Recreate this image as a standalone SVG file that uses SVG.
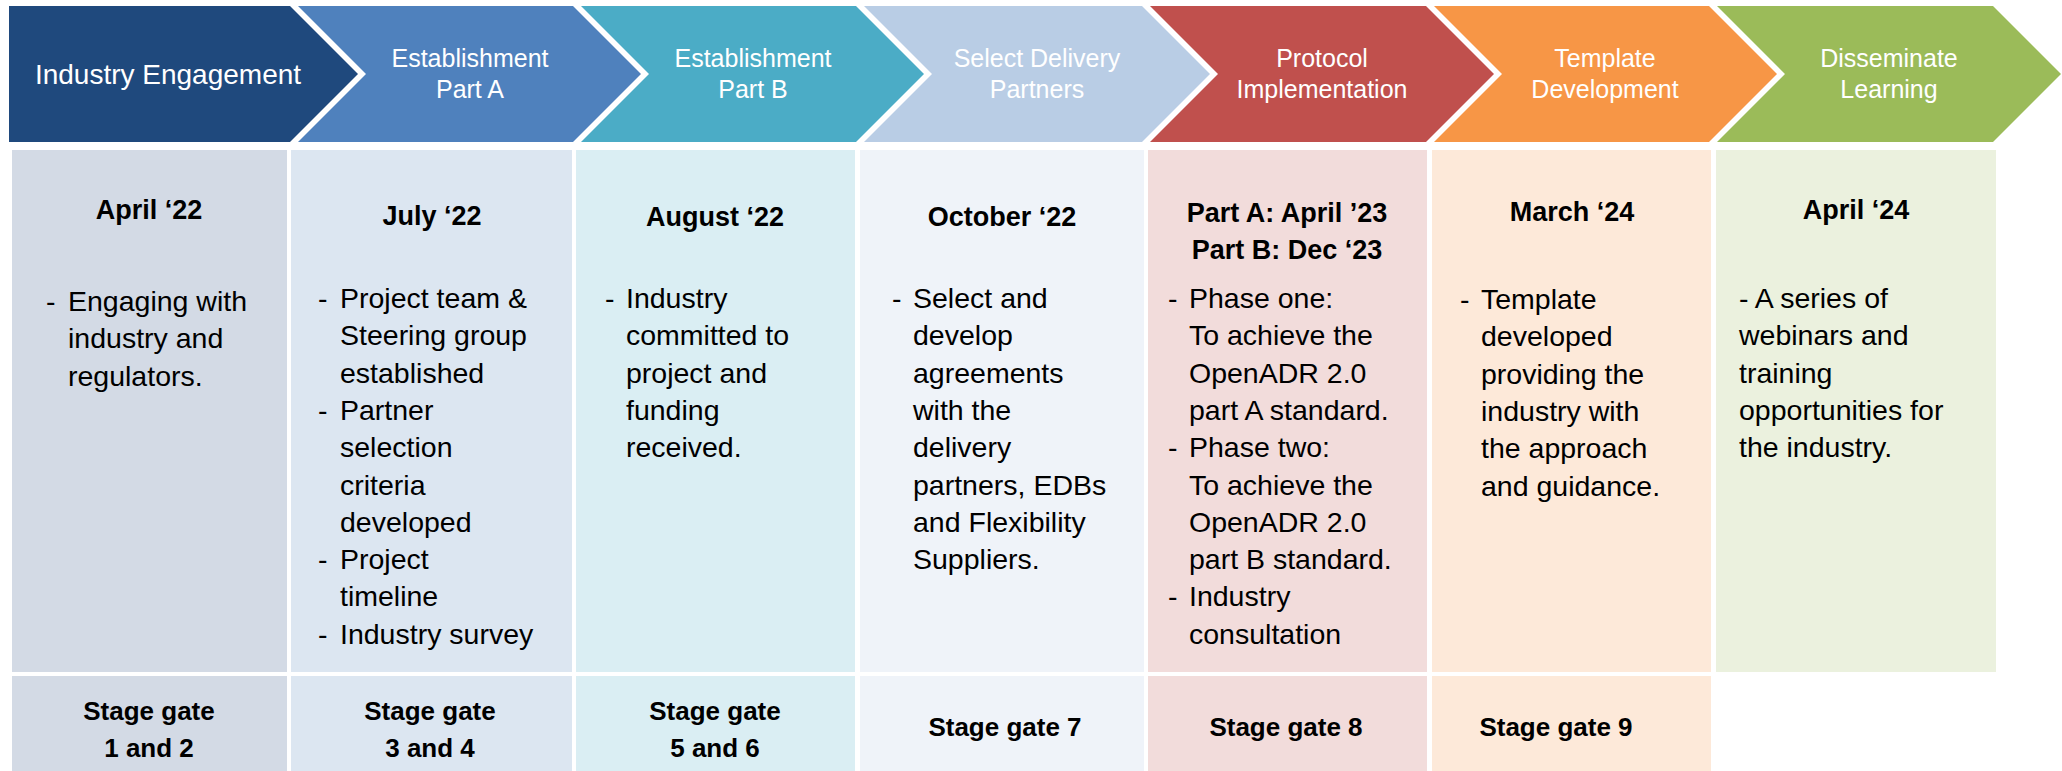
<svg xmlns="http://www.w3.org/2000/svg" width="2062" height="771" viewBox="0 0 2062 771">
<style>
text{font-family:"Liberation Sans",Arial,sans-serif;}
.hd{fill:#FFFFFF;font-size:25px;text-anchor:middle;}
.hd1{fill:#FFFFFF;font-size:28px;text-anchor:middle;}
.dt{fill:#000000;font-size:27px;font-weight:bold;text-anchor:middle;}
.bd{fill:#000000;font-size:28.5px;}
.sg{fill:#000000;font-size:26px;font-weight:bold;text-anchor:middle;}
</style>
<rect x="0" y="0" width="2062" height="771" fill="#FFFFFF"/>

<g id="chevrons">
<g id="chev1"><polygon points="9,6 290,6 358,74 290,142 9,142" fill="#1F497D"/>
<text class="hd1" x="168" y="84">Industry Engagement</text></g>
<g id="chev2"><polygon points="298,6 573,6 641,74 573,142 298,142 366,74" fill="#4F81BD"/>
<text class="hd" x="470" y="67">Establishment</text><text class="hd" x="470" y="98">Part A</text></g>
<g id="chev3"><polygon points="581,6 856,6 924,74 856,142 581,142 649,74" fill="#4BACC6"/>
<text class="hd" x="753" y="67">Establishment</text><text class="hd" x="753" y="98">Part B</text></g>
<g id="chev4"><polygon points="864,6 1142,6 1210,74 1142,142 864,142 932,74" fill="#B9CDE5"/>
<text class="hd" x="1037" y="67">Select Delivery</text><text class="hd" x="1037" y="98">Partners</text></g>
<g id="chev5"><polygon points="1150,6 1426,6 1494,74 1426,142 1150,142 1218,74" fill="#C0504D"/>
<text class="hd" x="1322" y="67">Protocol</text><text class="hd" x="1322" y="98">Implementation</text></g>
<g id="chev6"><polygon points="1434,6 1709,6 1777,74 1709,142 1434,142 1502,74" fill="#F79646"/>
<text class="hd" x="1605" y="67">Template</text><text class="hd" x="1605" y="98">Development</text></g>
<g id="chev7"><polygon points="1717,6 1993,6 2061,74 1993,142 1717,142 1785,74" fill="#9BBB59"/>
<text class="hd" x="1889" y="67">Disseminate</text><text class="hd" x="1889" y="98">Learning</text></g>
</g>

<g id="col1">
<rect x="12" y="150" width="275" height="522" fill="#D3DAE5"/>
<text class="dt" x="149" y="219">April ‘22</text>
<text class="bd" x="46" y="311">-</text>
<text class="bd"><tspan x="68" y="311">Engaging with</tspan><tspan x="68" y="348.3">industry and</tspan><tspan x="68" y="385.6">regulators.</tspan></text>
</g>
<g id="col2">
<rect x="291" y="150" width="281" height="522" fill="#DCE6F1"/>
<text class="dt" x="432" y="225">July ‘22</text>
<text class="bd"><tspan x="318" y="308">-</tspan><tspan x="318" y="419.9">-</tspan><tspan x="318" y="569.1">-</tspan><tspan x="318" y="643.7">-</tspan></text>
<text class="bd"><tspan x="340" y="308">Project team &amp;</tspan><tspan x="340" y="345.3">Steering group</tspan><tspan x="340" y="382.6">established</tspan><tspan x="340" y="419.9">Partner</tspan><tspan x="340" y="457.2">selection</tspan><tspan x="340" y="494.5">criteria</tspan><tspan x="340" y="531.8">developed</tspan><tspan x="340" y="569.1">Project</tspan><tspan x="340" y="606.4">timeline</tspan><tspan x="340" y="643.7">Industry survey</tspan></text>
</g>
<g id="col3">
<rect x="576" y="150" width="279" height="522" fill="#DAEEF3"/>
<text class="dt" x="715" y="226">August ‘22</text>
<text class="bd" x="605" y="308">-</text>
<text class="bd"><tspan x="626" y="308">Industry</tspan><tspan x="626" y="345.3">committed to</tspan><tspan x="626" y="382.6">project and</tspan><tspan x="626" y="419.9">funding</tspan><tspan x="626" y="457.2">received.</tspan></text>
</g>
<g id="col4">
<rect x="860" y="150" width="284" height="522" fill="#EFF3F9"/>
<text class="dt" x="1002" y="226">October ‘22</text>
<text class="bd" x="892" y="308">-</text>
<text class="bd"><tspan x="913" y="308">Select and</tspan><tspan x="913" y="345.3">develop</tspan><tspan x="913" y="382.6">agreements</tspan><tspan x="913" y="419.9">with the</tspan><tspan x="913" y="457.2">delivery</tspan><tspan x="913" y="494.5">partners, EDBs</tspan><tspan x="913" y="531.8">and Flexibility</tspan><tspan x="913" y="569.1">Suppliers.</tspan></text>
</g>
<g id="col5">
<rect x="1148" y="150" width="279" height="522" fill="#F2DCDB"/>
<text class="dt" x="1287" y="222">Part A: April ’23</text>
<text class="dt" x="1287" y="259">Part B: Dec ‘23</text>
<text class="bd"><tspan x="1168" y="308">-</tspan><tspan x="1168" y="457.2">-</tspan><tspan x="1168" y="606.4">-</tspan></text>
<text class="bd"><tspan x="1189" y="308">Phase one:</tspan><tspan x="1189" y="345.3">To achieve the</tspan><tspan x="1189" y="382.6">OpenADR 2.0</tspan><tspan x="1189" y="419.9">part A standard.</tspan><tspan x="1189" y="457.2">Phase two:</tspan><tspan x="1189" y="494.5">To achieve the</tspan><tspan x="1189" y="531.8">OpenADR 2.0</tspan><tspan x="1189" y="569.1">part B standard.</tspan><tspan x="1189" y="606.4">Industry</tspan><tspan x="1189" y="643.7">consultation</tspan></text>
</g>
<g id="col6">
<rect x="1432" y="150" width="279" height="522" fill="#FDE9D9"/>
<text class="dt" x="1572" y="221">March ‘24</text>
<text class="bd" x="1460" y="309">-</text>
<text class="bd"><tspan x="1481" y="309">Template</tspan><tspan x="1481" y="346.3">developed</tspan><tspan x="1481" y="383.6">providing the</tspan><tspan x="1481" y="420.9">industry with</tspan><tspan x="1481" y="458.2">the approach</tspan><tspan x="1481" y="495.5">and guidance.</tspan></text>
</g>
<g id="col7">
<rect x="1716" y="150" width="280" height="522" fill="#EBF1DE"/>
<text class="dt" x="1856" y="219">April ‘24</text>
<text class="bd"><tspan x="1739" y="308">- A series of</tspan><tspan x="1739" y="345.3">webinars and</tspan><tspan x="1739" y="382.6">training</tspan><tspan x="1739" y="419.9">opportunities for</tspan><tspan x="1739" y="457.2">the industry.</tspan></text>
</g>

<g id="gate1"><rect x="12" y="676" width="275" height="95" fill="#D3DAE5"/>
<text class="sg" x="149" y="720">Stage gate</text><text class="sg" x="149" y="757">1 and 2</text></g>
<g id="gate2"><rect x="291" y="676" width="281" height="95" fill="#DCE6F1"/>
<text class="sg" x="430" y="720">Stage gate</text><text class="sg" x="430" y="757">3 and 4</text></g>
<g id="gate3"><rect x="576" y="676" width="279" height="95" fill="#DAEEF3"/>
<text class="sg" x="715" y="720">Stage gate</text><text class="sg" x="715" y="757">5 and 6</text></g>
<g id="gate4"><rect x="860" y="676" width="284" height="95" fill="#EFF3F9"/>
<text class="sg" x="1005" y="736">Stage gate 7</text></g>
<g id="gate5"><rect x="1148" y="676" width="279" height="95" fill="#F2DCDB"/>
<text class="sg" x="1286" y="736">Stage gate 8</text></g>
<g id="gate6"><rect x="1432" y="676" width="279" height="95" fill="#FDE9D9"/>
<text class="sg" x="1556" y="736">Stage gate 9</text></g>

<g id="connectors"/>
</svg>
